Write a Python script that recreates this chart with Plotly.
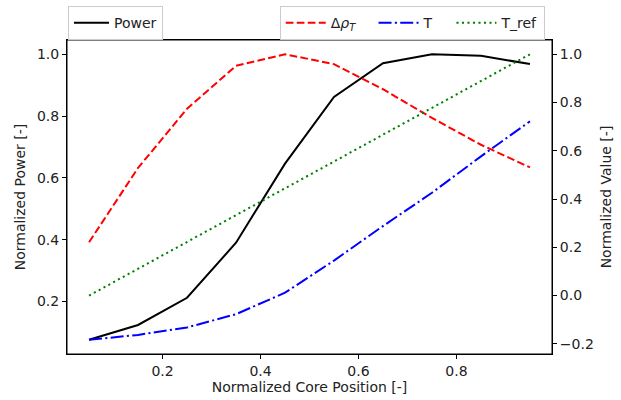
import plotly.graph_objects as go

x_pos = [0.05, 0.15, 0.25, 0.35, 0.45, 0.55, 0.65, 0.75, 0.85, 0.95]
power = [0.076, 0.124, 0.212, 0.390, 0.646, 0.862, 0.971, 1.000, 0.995, 0.968]
d_rho = [0.221, 0.529, 0.774, 0.952, 1.000, 0.959, 0.855, 0.736, 0.625, 0.531]
temp = [-0.183, -0.163, -0.132, -0.077, 0.012, 0.145, 0.288, 0.426, 0.577, 0.722]
t_ref = [0.0, 0.111, 0.222, 0.333, 0.444, 0.556, 0.667, 0.778, 0.889, 1.0]

x_ticks = [0.2, 0.4, 0.6, 0.8]
y_ticks = [0.2, 0.4, 0.6, 0.8, 1.0]
y2_ticks = [-0.2, 0.0, 0.2, 0.4, 0.6, 0.8, 1.0]
y2_text = ["\u22120.2", "0.0", "0.2", "0.4", "0.6", "0.8", "1.0"]

FONT = "DejaVu Sans"
FS = 14
PAD = "\u00a0" * 3

fig = go.Figure()
fig.add_trace(go.Scatter(x=x_pos, y=power, mode="lines", name="Power",
                         line=dict(color="black", width=2), legend="legend",
                         showlegend=True))
fig.add_trace(go.Scatter(x=x_pos, y=d_rho, mode="lines",
                         name="Δ<i>ρ</i><sub><i>T</i></sub>" + PAD,
                         line=dict(color="#ff0000", width=2, dash="7.7px,3.3px"),
                         yaxis="y2", legend="legend2", showlegend=True))
fig.add_trace(go.Scatter(x=x_pos, y=temp, mode="lines", name="T" + PAD,
                         line=dict(color="#0000ff", width=2,
                                   dash="13px,3.3px,2.1px,3.3px"),
                         yaxis="y2", legend="legend2", showlegend=True))
fig.add_trace(go.Scatter(x=x_pos, y=t_ref, mode="lines", name="T_ref",
                         line=dict(color="#008000", width=2, dash="2.1px,3.4px"),
                         yaxis="y2", legend="legend2", showlegend=True))

axis_common = dict(showgrid=False, zeroline=False, showline=True, linecolor="black",
                   linewidth=1, ticks="outside", ticklen=4, tickcolor="black",
                   tickfont=dict(family=FONT, size=FS, color="#222"), automargin=False)

fig.update_layout(
    width=621, height=400,
    margin=dict(l=67, r=69, t=40, b=46, autoexpand=False),
    paper_bgcolor="white", plot_bgcolor="white",
    showlegend=True,
    font=dict(family=FONT, size=FS, color="#222"),
    xaxis=dict(range=[0.005, 0.995], tickvals=x_ticks, tickformat=".1f", mirror=True,
               title=dict(text="Normalized Core Position [-]", standoff=1,
                          font=dict(family=FONT, size=FS)),
               **axis_common),
    yaxis=dict(range=[0.030, 1.046], tickvals=y_ticks, tickformat=".1f",
               title=dict(text="Normalized Power [-]", standoff=8,
                          font=dict(family=FONT, size=FS)),
               **axis_common),
    yaxis2=dict(range=[-0.242, 1.059], tickvals=y2_ticks, ticktext=y2_text,
                overlaying="y", side="right",
                title=dict(text="Normalized Value [-]", standoff=8,
                           font=dict(family=FONT, size=FS)),
                **axis_common),
    legend=dict(x=0.002, y=1.108, xanchor="left", yanchor="top", orientation="h",
                bgcolor="white", bordercolor="#cccccc", borderwidth=1,
                font=dict(family=FONT, size=FS), itemwidth=35),
    legend2=dict(x=0.985, y=1.108, xanchor="right", yanchor="top", orientation="h",
                 bgcolor="white", bordercolor="#cccccc", borderwidth=1,
                 font=dict(family=FONT, size=FS), itemwidth=40),
    shapes=[dict(type="rect", xref="paper", yref="paper", x0=0, x1=1, y0=0, y1=1,
                 line=dict(color="black", width=1), layer="above")],
)

fig.write_html("out.html", config={"displayModeBar": False},
               post_script="document.body.style.margin='0';document.body.style.padding='0';")
